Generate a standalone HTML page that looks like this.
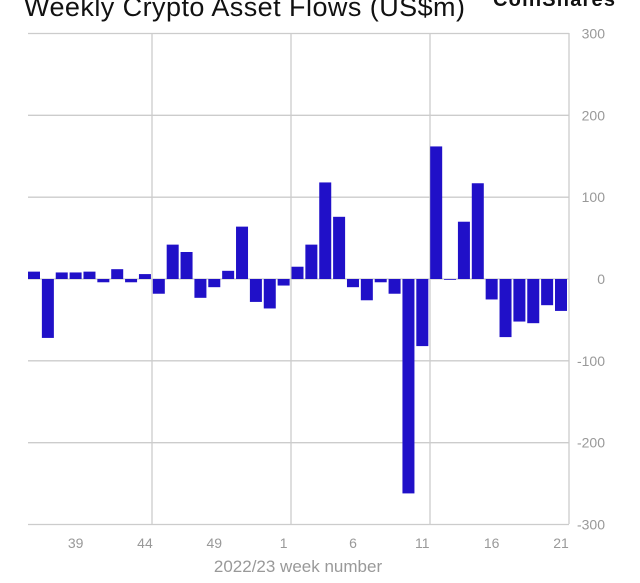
<!DOCTYPE html>
<html><head><meta charset="utf-8"><style>
html,body{margin:0;padding:0;background:#fff;width:640px;height:583px;overflow:hidden}
svg{display:block}
text{font-family:"Liberation Sans",Arial,sans-serif}
</style></head><body>
<svg id="chart" width="640" height="583">
<text x="24" y="16" font-size="27" fill="#111" textLength="441">Weekly Crypto Asset Flows (US$m)</text>
<text x="493" y="6" font-size="20" font-weight="bold" fill="#111" textLength="122">CoinShares</text>
<g id="grid"></g><g id="bars"></g><g id="yticks"></g><g id="xticks"></g>
<text x="298" y="572" font-size="17" fill="#999" text-anchor="middle">2022/23 week number</text>
</svg>
<script>
const weeks=[36,37,38,39,40,41,42,43,44,45,46,47,48,49,50,51,52,53,1,2,3,4,5,6,7,8,9,10,11,12,13,14,15,16,17,18,19,20,21];
const flows=[9,-72,8,8,9,-4,12,-4,6,-18,42,33,-23,-10,10,64,-28,-36,-8,15,42,118,76,-10,-26,-4,-18,-262,-82,162,0,70,117,-25,-71,-52,-54,-32,-39];
const xLabels=["39","44","49","1","6","11","16","21"];
const yTicks=[300,200,100,0,-100,-200,-300];
const NS="http://www.w3.org/2000/svg";
const L=28,R=569,T=33,B=524;
const x0=34,step=(561-34)/38;
const xPos=i=>x0+i*step;
const yPos=v=>279-(v)*(245.5/300);
function mk(t,a,p){const e=document.createElementNS(NS,t);for(const k in a)e.setAttribute(k,a[k]);p.appendChild(e);return e;}
const grid=document.getElementById('grid');
yTicks.forEach(v=>{const l=mk('line',{x1:L,x2:R,y1:yPos(v),y2:yPos(v),stroke:'#ccc','stroke-width':1.3},grid);

});
[152,291,430,569].forEach(x=>{const l=mk('line',{x1:x,x2:x,y1:T,y2:B,stroke:'#ccc','stroke-width':1.3},grid);

});
const bars=document.getElementById('bars');
flows.forEach((v,i)=>{const y=Math.min(yPos(v),yPos(0));const h=Math.max(Math.abs(yPos(v)-yPos(0)),0.8);
const r=mk('rect',{x:xPos(i)-6,y:y,width:12,height:h,fill:'#2010c8'},bars);

});
const yt=document.getElementById('yticks');
yTicks.forEach(v=>{const t=mk('text',{x:605,y:yPos(v)+5,'font-size':14,fill:'#999','text-anchor':'end'},yt);t.textContent=v;

});
const xt=document.getElementById('xticks');
xLabels.forEach((s,k)=>{const t=mk('text',{x:xPos(3+5*k),y:548,'font-size':14,fill:'#999','text-anchor':'middle'},xt);t.textContent=s;

});
</script>
</body></html>
